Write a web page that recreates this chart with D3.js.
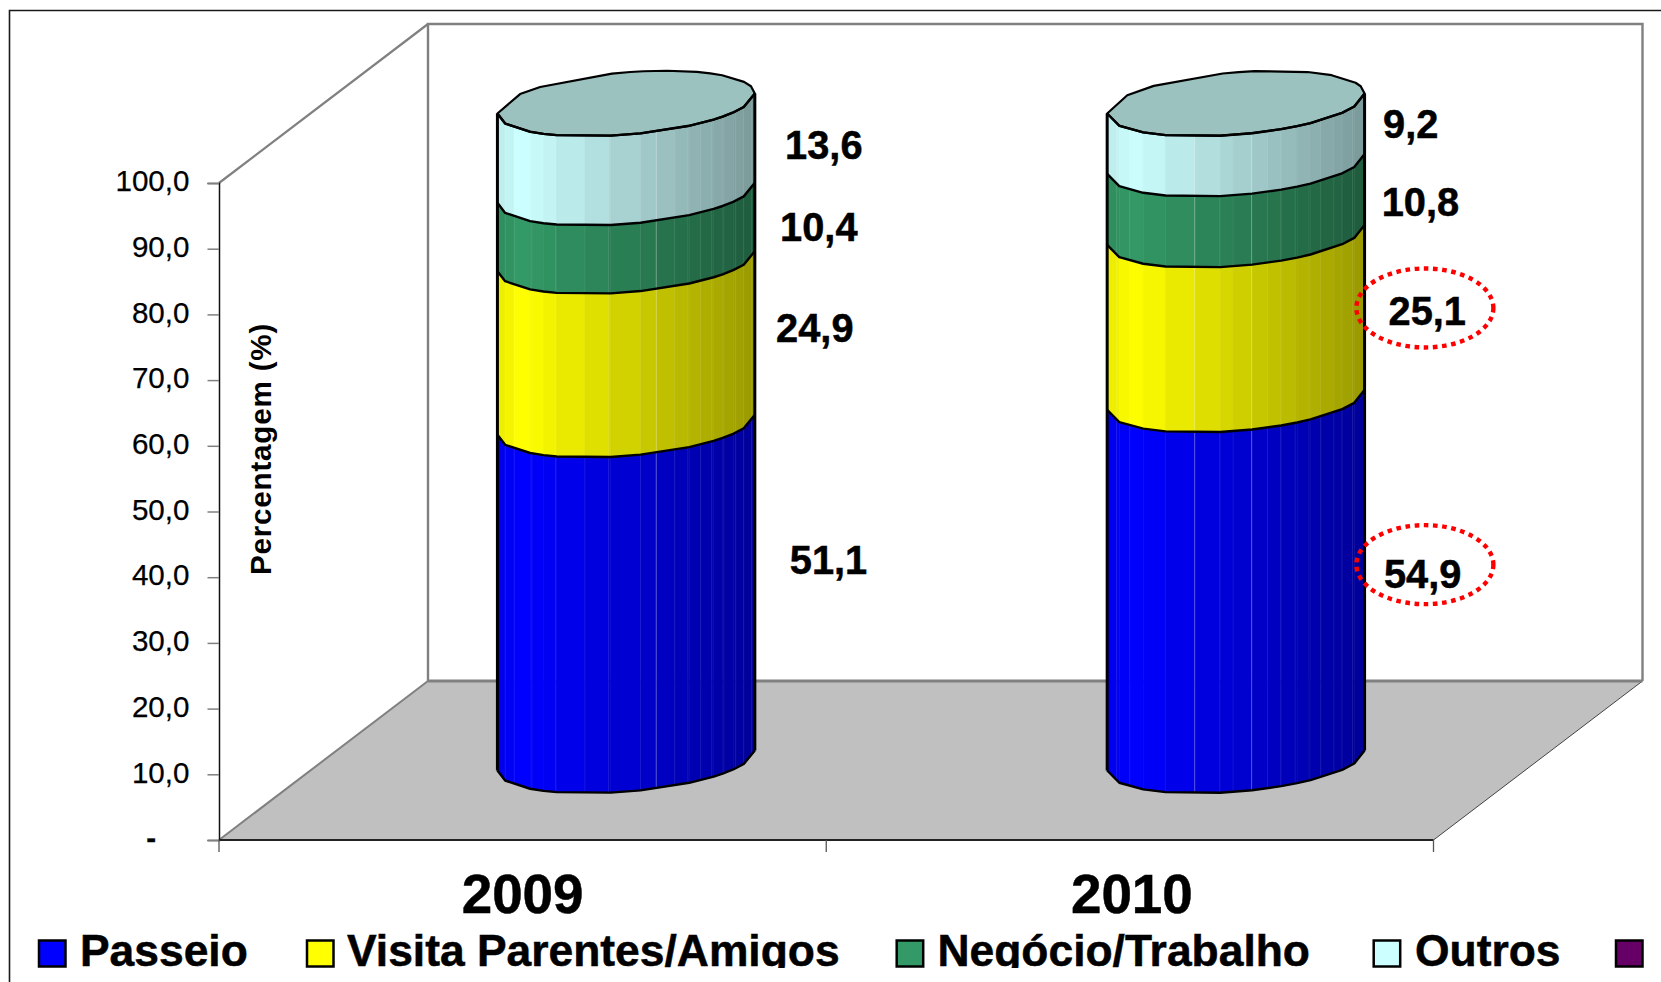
<!DOCTYPE html>
<html>
<head>
<meta charset="utf-8">
<script src="https://d3js.org/d3.v7.min.js"></script>
<style>
  html, body { margin: 0; padding: 0; background: #fff; }
  text { font-family: "Liberation Sans", Arial, sans-serif; fill: #000; }
</style>
</head>
<body>
<div id="chart"></div>
<script>
// values
var categories = ["2009", "2010"];
var seriesNames = ["Passeio", "Visita Parentes/Amigos", "Negócio/Trabalho", "Outros"];
var passeio = [51.1, 54.9];
var visita = [24.9, 25.1];
var negocio = [10.4, 10.8];
var outros = [13.6, 9.2];
var yTicks = [0, 10, 20, 30, 40, 50, 60, 70, 80, 90, 100];
var seriesColors = ["#0000ff", "#ffff00", "#339966", "#ccffff"];

var legendNames = ["Passeio", "Visita Parentes/Amigos", "Negócio/Trabalho", "Outros", ""];
var legendColors = ["#0000ff", "#ffff00", "#339966", "#ccffff", "#660066"];

// layout, measured by hand
var W = 1661, H = 982;
var front = {left: 219, right: 1433.5, top: 183, bottom: 840};
var depth = {x: 209, y: -159};
var RX = 128.7, RY = 31.2, SHEAR = 10;
var cxNudge = [-1, 1.5];
var catNudge = [0, 2];

// facet boundaries of each polygonal cylinder, 0 = left edge, 1 = right edge
var facets = [
  [0, .03, .065, .134, .226, .34, .432, .556, .617, .689, .74, .79, .833, .88, .926, .957, .988, 1],
  [0, .037, .088, .226, .34, .437, .489, .561, .623, .674, .73, .784, .83, .881, .912, .953, 1]
];
// corners of the rough outline, front arc and back arc
var frontCorners = [
  [0, .03, .127, .179, .23, .44, .556, .745, .84, .875, .916, .957, 1],
  [0, .047, .14, .227, .439, .563, .676, .738, .79, .913, .96, 1]
];
var backCorners = [
  [0, .088, .166, .445, .516, .568, .659, .775, .827, .873, .958, .985, 1],
  [0, .078, .181, .449, .511, .573, .779, .872, .965, .985, 1]
];
var strongSeam = [[7], [3, 6]];
var labelNudge = [
  [[201.4, -98.4], [187.7, -80.8], [191.7, -65.8], [196.7, -68.7]],
  [[188.3, -72], [192.9, -72.2], [186, -62.9], [176.3, -75.5]]
];
// dotted rings around the two values that are called out: [category, series, dx, dy]
var rings = [[1, 0, 190.5, -95], [1, 1, 190.5, -88.9]];
var legendKeyX = [39, 307, 896.7, 1373.7, 1616];
var legendTextX = [80, 347, 937.5, 1415, 0];

var svg = d3.select("#chart").append("svg")
    .attr("width", W).attr("height", H)
    .style("display", "block");

var y = d3.scaleLinear().domain([0, 100]).range([front.bottom, front.top]);
var x = d3.scaleBand().domain(categories).range([front.left, front.right]);

var rows = categories.map(function(c, i){
  return {cat: c, passeio: passeio[i], visita: visita[i], negocio: negocio[i], outros: outros[i]};
});
var stacked = d3.stack().keys(["passeio", "visita", "negocio", "outros"])(rows);

// outer frame, only the top and left sides show in the picture
svg.append("path")
    .attr("d", "M9.5," + H + "V10.5H" + W)
    .attr("fill", "none").attr("stroke", "#1a1a1a").attr("stroke-width", 1.6);

// walls and floor
var wallPts = [
  [front.left, front.top], [front.left + depth.x, front.top + depth.y]
];
svg.append("path")
    .attr("d", d3.line()(wallPts))
    .attr("stroke", "#808080").attr("stroke-width", 2.2).attr("fill", "none");

var backLeft = front.left + depth.x, backRight = front.right + depth.x;
var backTop = front.top + depth.y, backBottom = front.bottom + depth.y;

svg.append("path")
    .attr("d", d3.line()([[front.left, front.bottom], [backLeft, backBottom], [backRight, backBottom], [front.right, front.bottom]]) + "Z")
    .attr("fill", "#c0c0c0");
svg.append("path")
    .attr("d", d3.line()([[front.left, front.bottom], [backLeft, backBottom]]))
    .attr("stroke", "#808080").attr("stroke-width", 2).attr("fill", "none");
svg.append("path")
    .attr("d", d3.line()([[front.right, front.bottom], [backRight, backBottom]]))
    .attr("stroke", "#444").attr("stroke-width", 1).attr("fill", "none");
svg.append("path")
    .attr("d", d3.line()([[backLeft, backBottom], [backLeft, backTop], [backRight, backTop], [backRight, backBottom]]))
    .attr("stroke", "#808080").attr("stroke-width", 2.4).attr("fill", "none");
svg.append("path")
    .attr("d", d3.line()([[backLeft, backBottom], [backRight, backBottom]]))
    .attr("stroke", "#808080").attr("stroke-width", 3).attr("fill", "none");

// y axis
var yAxis = d3.axisLeft(y)
    .tickValues(yTicks)
    .tickSize(11.5)
    .tickPadding(18)
    .tickFormat(function(d){ return d === 0 ? "-" : d.toFixed(1).replace(".", ","); });

var gy = svg.append("g")
    .attr("transform", "translate(" + front.left + ",0)")
    .call(yAxis);
gy.select(".domain").attr("stroke", "#111").attr("stroke-width", 1.5);
gy.selectAll(".tick line").attr("stroke", "#808080").attr("stroke-width", 1.5);
gy.selectAll(".tick text")
    .attr("font-size", 29.6)
    .attr("dy", "0.26em")
    .attr("stroke", "#000").attr("stroke-width", .25)
    .style("font-family", "'Liberation Sans', Arial, sans-serif");
gy.selectAll(".tick text").filter(function(d){ return d === 0; })
    .attr("x", -63)
    .attr("font-weight", "bold");

// x axis, ticks on the category edges
var xEdges = categories.map(function(c){ return x(c); }).concat([front.right]);
svg.append("line")
    .attr("x1", front.left).attr("x2", front.right)
    .attr("y1", front.bottom).attr("y2", front.bottom)
    .attr("stroke", "#222").attr("stroke-width", 1.8);
svg.selectAll(".xtick").data(xEdges).enter().append("line")
    .attr("class", "xtick")
    .attr("x1", function(d){ return d; }).attr("x2", function(d){ return d; })
    .attr("y1", front.bottom).attr("y2", front.bottom + 12)
    .attr("stroke", "#555").attr("stroke-width", 1.3);

svg.selectAll(".cat").data(categories).enter().append("text")
    .attr("class", "cat")
    .attr("x", function(d, i){ return x(d) + x.bandwidth() / 2 + catNudge[i]; })
    .attr("y", 913)
    .attr("text-anchor", "middle")
    .attr("font-weight", "bold")
    .attr("font-size", 54.8)
    .attr("stroke", "#000").attr("stroke-width", .5)
    .text(function(d){ return d; });

svg.append("text")
    .attr("transform", "translate(271,449) rotate(-90)")
    .attr("text-anchor", "middle")
    .attr("font-weight", "bold")
    .attr("font-size", 29.6)
    .attr("letter-spacing", 0.8)
    .text("Percentagem (%)");

// cylinders
function shade(color, u){
  // a little dark on the far left, brightest near it, falling off to the right
  var k = u < .1 ? .92 + .8 * u : 1 - .4 * (u - .1) / .9;
  var c = d3.rgb(color);
  return d3.rgb(c.r * k, c.g * k, c.b * k).formatHex();
}
function ellipseSin(u){
  var c = 2 * u - 1;
  return Math.sqrt(Math.max(0, 1 - c * c));
}
function cornerScale(stops){
  return d3.scaleLinear().domain(stops).range(stops.map(ellipseSin));
}
var line = d3.line();

var cyl = svg.selectAll(".cyl").data(categories).enter().append("g").attr("class", "cyl");

cyl.each(function(c, ci){
  var g = d3.select(this);
  var cx = x(c) + x.bandwidth() / 2 + depth.x / 2 + cxNudge[ci];
  var us = facets[ci];
  var centerY = function(v){ return y(v) + depth.y / 2; };
  var frontSin = cornerScale(frontCorners[ci]);
  var backSin = cornerScale(backCorners[ci]);

  function rim(cy, u, side){
    var cosv = 2 * u - 1;
    var s = side > 0 ? frontSin(u) : -backSin(u);
    return [cx + RX * cosv, cy - SHEAR * cosv + RY * s];
  }

  stacked.forEach(function(layer, si){
    var low = centerY(layer[ci][0]), high = centerY(layer[ci][1]);
    var color = seriesColors[si];
    var all = d3.merge([us, frontCorners[ci]]).sort(d3.ascending);
    d3.range(all.length - 1).forEach(function(k){
      var u0 = all[k], u1 = all[k + 1];
      if(u1 === u0){ return; }
      var poly = [rim(low, u0, 1), rim(low, u1, 1), rim(high, u1, 1), rim(high, u0, 1)];
      var f = shade(color, (u0 + u1) / 2);
      g.append("path").attr("d", line(poly) + "Z")
          .attr("fill", f).attr("stroke", f).attr("stroke-width", .6);
    });
    us.slice(1, -1).forEach(function(u, k){
      var strong = strongSeam[ci].indexOf(k) >= 0;
      g.append("path").attr("d", line([rim(low, u, 1), rim(high, u, 1)]))
          .attr("stroke", "#fff").attr("fill", "none").attr("stroke-width", .8)
          .attr("stroke-opacity", strong ? .4 : .09);
    });
  });

  // top cap
  var top = centerY(100);
  var fc = frontCorners[ci], bc = backCorners[ci];
  var cap = fc.map(function(u){ return rim(top, u, 1); })
      .concat(bc.slice().reverse().map(function(u){ return rim(top, u, -1); }));
  g.append("path").attr("d", line(cap) + "Z")
      .attr("fill", "#9cc2c0");

  // outlines: every level, the two sides and the cap
  var levels = [0].concat(stacked.map(function(layer){ return layer[ci][1]; }));
  levels.forEach(function(v){
    g.append("path")
        .attr("d", line(fc.map(function(u){ return rim(centerY(v), u, 1); })))
        .attr("fill", "none").attr("stroke", "#000").attr("stroke-width", 2.4)
        .attr("stroke-linejoin", "round");
  });
  g.append("path")
      .attr("d", line(cap) + "Z")
      .attr("fill", "none").attr("stroke", "#000").attr("stroke-width", 2.2)
      .attr("stroke-linejoin", "round");
  [0, 1].forEach(function(u){
    g.append("path")
        .attr("d", line([rim(centerY(0), u, 1), rim(top, u, 1)]))
        .attr("stroke", "#000").attr("stroke-width", 3).attr("fill", "none");
  });

  // value labels
  stacked.forEach(function(layer, si){
    var d = layer[ci];
    var nudge = labelNudge[ci][si];
    g.append("text")
        .attr("x", cx + nudge[0] - cxNudge[ci])
        .attr("y", y((d[0] + d[1]) / 2) + nudge[1])
        .attr("text-anchor", "middle")
        .attr("font-weight", "bold")
        .attr("font-size", 39.8)
        .attr("stroke", "#000").attr("stroke-width", .5)
        .text((d[1] - d[0]).toFixed(1).replace(".", ","));
  });
});

// called-out values
svg.selectAll(".ring").data(rings).enter().append("ellipse")
    .attr("class", "ring")
    .attr("cx", function(r){ return x(categories[r[0]]) + x.bandwidth() / 2 + depth.x / 2 + r[2]; })
    .attr("cy", function(r){
      var d = stacked[r[1]][r[0]];
      return y((d[0] + d[1]) / 2) + r[3];
    })
    .attr("rx", 68.5).attr("ry", 39.5)
    .attr("fill", "none")
    .attr("stroke", "#ff0000")
    .attr("stroke-width", 4.4)
    .attr("stroke-dasharray", "4.6 4.6");

// legend, its lower edge is cut off in the picture
svg.append("clipPath").attr("id", "legendClip")
  .append("rect").attr("x", 0).attr("y", 920).attr("width", W).attr("height", 48);

var legend = svg.append("g").attr("clip-path", "url(#legendClip)");
legend.selectAll("rect").data(legendNames).enter().append("rect")
    .attr("x", function(d, i){ return legendKeyX[i]; })
    .attr("y", 940.5)
    .attr("width", 26.5).attr("height", 26)
    .attr("fill", function(d, i){ return legendColors[i]; })
    .attr("stroke", "#000").attr("stroke-width", 2.5);
legend.selectAll("text").data(legendNames).enter().append("text")
    .attr("x", function(d, i){ return legendTextX[i]; })
    .attr("y", 966)
    .attr("font-weight", "bold")
    .attr("font-size", 44.4)
    .attr("stroke", "#000").attr("stroke-width", .5)
    .text(function(d){ return d; });
</script>
</body>
</html>
